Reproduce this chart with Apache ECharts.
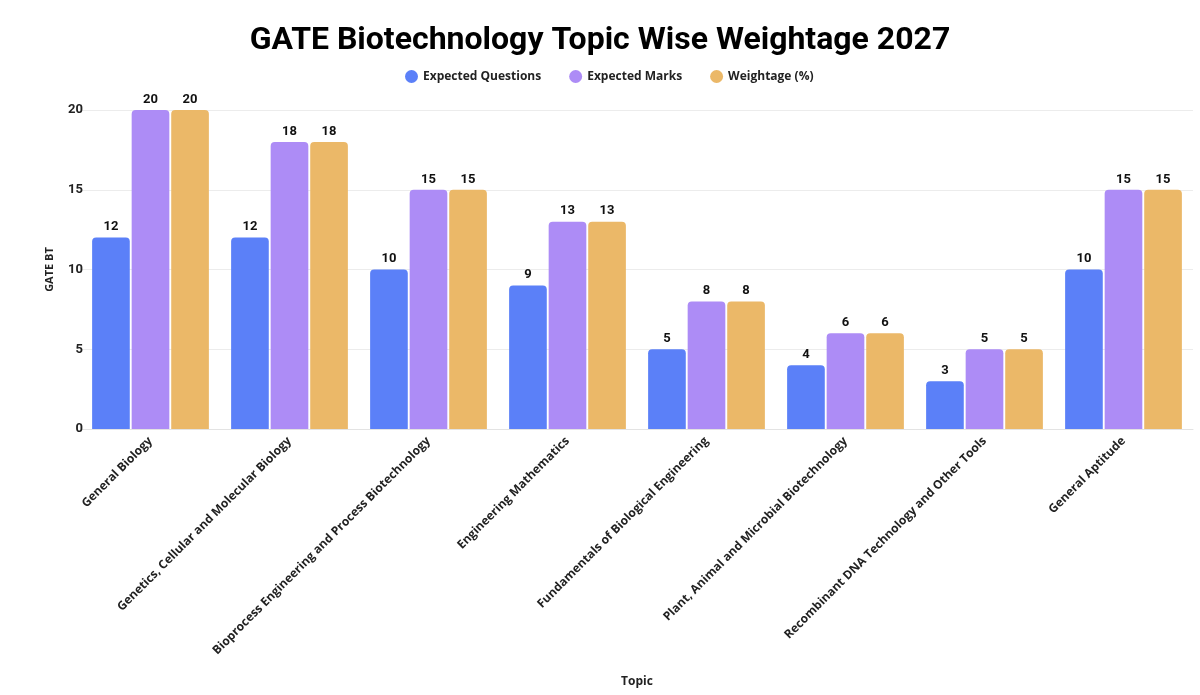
<!DOCTYPE html>
<html>
<head>
<meta charset="utf-8">
<script src="https://cdn.jsdelivr.net/npm/echarts@6/dist/echarts.min.js"></script>
<style>
html,body{margin:0;padding:0;background:#fff;}
#chart{width:1200px;height:695px;}
</style>
</head>
<body>
<div id="chart"></div>
<script>
// 数据
var topics = ["General Biology", "Genetics, Cellular and Molecular Biology", "Bioprocess Engineering and Process Biotechnology",
    "Engineering Mathematics", "Fundamentals of Biological Engineering", "Plant, Animal and Microbial Biotechnology",
    "Recombinant DNA Technology and Other Tools", "General Aptitude"];
var expectedQuestions = [12, 12, 10, 9, 5, 4, 3, 10];
var expectedMarks = [20, 18, 15, 13, 8, 6, 5, 15];
var weightage = [20, 18, 15, 13, 8, 6, 5, 15];
var yTicks = [0, 5, 10, 15, 20];

var font = "Open Sans";

function makeSeries(name, data, color){
    return {
        name: name,
        type: 'bar',
        data: data,
        barGap: '5%',
        barCategoryGap: '16%',
        itemStyle: {color: color, borderRadius: [4, 4, 0, 0]},
        label: {show: true, position: 'top', distance: 4, color: '#111', fontWeight: 'bold', fontSize: 13, fontFamily: 'Roboto'}
    };
}

var mychart = echarts.init(document.getElementById('chart'));
var option = {
    animation: false,
    backgroundColor: '#fff',
    title: {
        text: 'GATE Biotechnology Topic Wise Weightage 2027',
        left: 'center',
        top: 20,
        textStyle: {fontSize: 32, fontWeight: 'bold', color: '#000', fontFamily: 'Roboto'}
    },
    legend: {
        top: 65,
        left: 400,
        icon: 'circle',
        itemWidth: 13,
        itemHeight: 13,
        itemGap: 28,
        textStyle: {fontSize: 12, fontWeight: 'bold', color: '#222', fontFamily: font}
    },
    grid: {left: 81, right: 7, top: 110, bottom: 266},
    xAxis: {
        type: 'category',
        data: topics,
        name: 'Topic',
        nameLocation: 'middle',
        nameGap: 247,
        nameTextStyle: {fontSize: 12, fontWeight: 'bold', color: '#222', fontFamily: font},
        axisTick: {show: false},
        axisLine: {lineStyle: {color: '#e3e3e3'}},
        axisLabel: {rotate: 45, interval: 0, margin: 10, fontSize: 12, fontWeight: 'bold', color: '#222', fontFamily: font}
    },
    yAxis: {
        type: 'value',
        min: yTicks[0],
        max: yTicks[yTicks.length - 1],
        interval: 5,
        name: 'GATE BT',
        nameLocation: 'middle',
        nameGap: 26,
        nameTextStyle: {fontSize: 11, fontWeight: 'bold', color: '#222', fontFamily: font},
        axisLabel: {fontSize: 13, fontWeight: 'bold', color: '#222', fontFamily: 'Roboto', margin: -2},
        splitLine: {lineStyle: {color: '#ececec'}}
    },
    series: [
        makeSeries('Expected Questions', expectedQuestions, '#5b80f8'),
        makeSeries('Expected Marks', expectedMarks, '#ad8cf6'),
        makeSeries('Weightage (%)', weightage, '#ebb868')
    ]
};
mychart.setOption(option);
</script>
</body>
</html>
